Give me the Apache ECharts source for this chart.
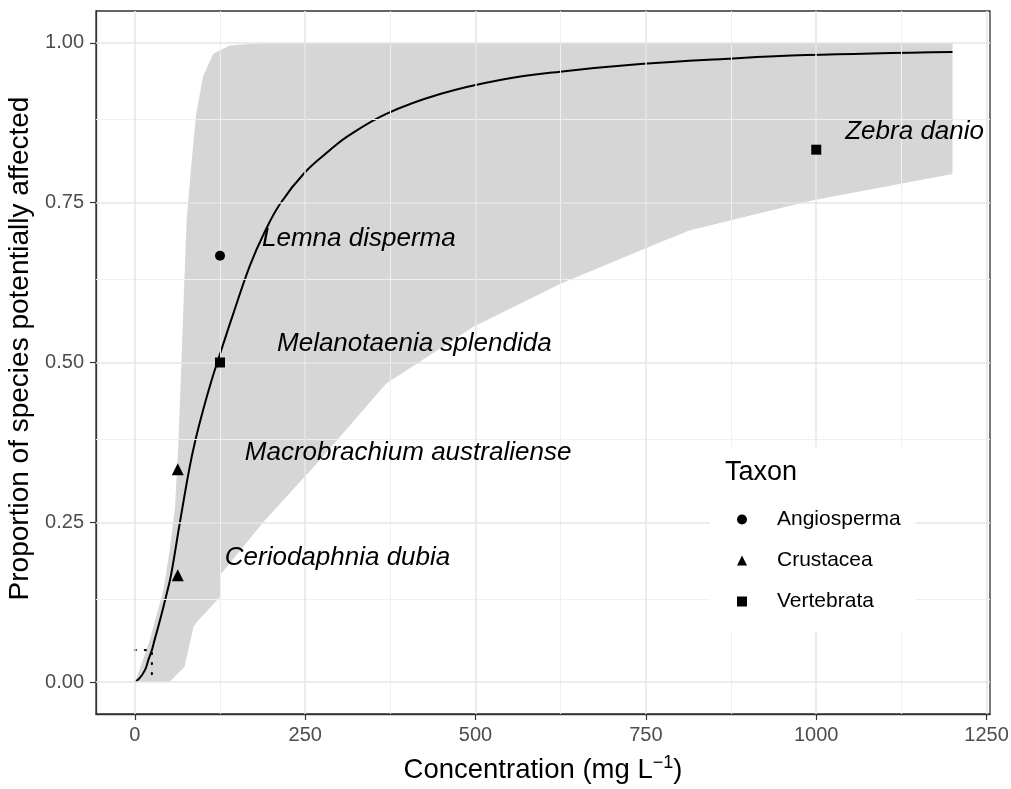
<!DOCTYPE html>
<html><head><meta charset="utf-8">
<script src="https://cdn.jsdelivr.net/npm/echarts@6/dist/echarts.min.js"></script>
<style>html,body{margin:0;padding:0;background:#fff}#c{width:1011px;height:789px}</style>
</head><body><div id="c"></div>
<script>
// ---- data ----
const curveX = [0, 7, 15, 20, 25, 29, 37, 46, 53, 66, 80, 89, 100, 112, 124, 144, 169, 190, 213, 250, 286, 311, 369, 448, 536, 624, 742, 864, 985, 1200];
const curveY = [0, 0.006, 0.019, 0.035, 0.05, 0.066, 0.097, 0.135, 0.167, 0.249, 0.334, 0.379, 0.425, 0.47, 0.51, 0.575, 0.652, 0.703, 0.748, 0.798, 0.832, 0.853, 0.889, 0.92, 0.942, 0.955, 0.967, 0.975, 0.981, 0.986];

const bandUpperX = [0, 2, 22, 42, 51, 59, 64, 68, 72, 76, 83, 90, 100, 115, 139, 188, 1200];
const bandUpperY = [0, 0.004, 0.066, 0.144, 0.206, 0.274, 0.378, 0.49, 0.61, 0.723, 0.811, 0.889, 0.947, 0.983, 0.996, 1.0, 1.0];
const bandLowerX = [0, 51, 73, 86, 91, 125, 125, 190, 267, 369, 497, 624, 771, 815, 995, 1200];
const bandLowerY = [0, 0, 0.024, 0.086, 0.094, 0.133, 0.167, 0.252, 0.342, 0.467, 0.556, 0.623, 0.688, 0.707, 0.754, 0.795];

const species = ['Lemna disperma', 'Melanotaenia splendida', 'Macrobrachium australiense', 'Ceriodaphnia dubia', 'Zebra danio'];
const speciesConc = [125, 125, 63, 63, 1000];
const speciesProp = [0.667, 0.5, 0.333, 0.167, 0.833];
const speciesTaxon = ['Angiosperma', 'Vertebrata', 'Crustacea', 'Crustacea', 'Vertebrata'];
const taxa = ['Angiosperma', 'Crustacea', 'Vertebrata'];

const hc5X = [0, 25, 25];
const hc5Y = [0.05, 0.05, 0];

const xTicks = [0, 250, 500, 750, 1000, 1250];
const xMinor = [125, 375, 625, 875, 1125];
const yTicks = [0, 0.25, 0.5, 0.75, 1];
const yMinor = [0.125, 0.375, 0.625, 0.875];

// ---- styles ----
const FONT = "'Liberation Sans', Arial, sans-serif";
const taxonSymbol = {Angiosperma: 'circle', Crustacea: 'triangle', Vertebrata: 'rect'};
const taxonSize = {Angiosperma: 10, Crustacea: 12, Vertebrata: 10};
const labelNudge = [[37, -17.5], [52, -18.5], [61, -16.6], [41, -18], [24, -18]];

const zip = (a, b) => a.map((v, i) => [v, b[i]]);
const curve = zip(curveX, curveY);
const bandPoly = zip(bandUpperX, bandUpperY).concat(zip(bandLowerX, bandLowerY).reverse());

const majorLine = {color: '#E6E6E6', width: 1.5, type: 'solid'};
const minorLine = {color: '#F0F0F0', width: 1, type: 'solid'};
const gridMarks = [].concat(
  xMinor.map(v => ({xAxis: v, lineStyle: minorLine})),
  yMinor.map(v => ({yAxis: v, lineStyle: minorLine})),
  xTicks.map(v => ({xAxis: v, lineStyle: majorLine})),
  yTicks.map(v => ({yAxis: v, lineStyle: majorLine}))
);

const chart = echarts.init(document.getElementById('c'), null, {renderer: 'canvas'});

const scatterSeries = taxa.map(t => ({
  type: 'scatter', name: t, symbol: taxonSymbol[t], symbolSize: taxonSize[t], z: 5,
  itemStyle: {color: '#000', opacity: 1},
  data: species.map((s, i) => i).filter(i => speciesTaxon[i] === t).map(i => ({
    value: [speciesConc[i], speciesProp[i]], name: species[i],
    label: {
      show: true, position: 'right', distance: 0, offset: labelNudge[i],
      formatter: species[i], fontSize: 26, fontStyle: 'italic', color: '#000',
      fontFamily: FONT, align: 'left', verticalAlign: 'middle'
    }
  }))
}));

chart.setOption({
  animation: false,
  textStyle: {fontFamily: FONT},
  grid: {left: 96, right: 21, top: 11, bottom: 75, outerBoundsMode: 'none', containLabel: false,
    show: true, borderColor: '#333', borderWidth: 1.3, backgroundColor: '#fff'},
  title: {text: 'Taxon', left: 725, top: 459, padding: 0, z: 10,
    textStyle: {fontSize: 27, fontWeight: 'normal', color: '#000', fontFamily: FONT}},
  legend: {
    orient: 'vertical', left: 710, top: 447, padding: [62, 15, 19, 27],
    itemWidth: 10, itemHeight: 10, itemGap: 20, backgroundColor: '#fff',
    selectedMode: false, z: 8, data: taxa,
    textStyle: {fontSize: 21, color: '#000', lineHeight: 21, fontFamily: FONT, padding: [0, 0, 0, 25]}
  },
  xAxis: {
    type: 'value', min: -57, max: 1255,
    splitLine: {show: false},
    axisLine: {show: true, onZero: false, lineStyle: {color: '#333', width: 1.3}},
    axisTick: {show: true, length: 6, customValues: xTicks, lineStyle: {color: '#333', width: 1.2}},
    axisLabel: {customValues: xTicks, fontSize: 20, color: '#4D4D4D', margin: 11, fontFamily: FONT,
      formatter: v => String(v)},
    name: '{n|Concentration (mg L}{s|−1}{n|)}',
    nameLocation: 'middle', nameGap: 40,
    nameTextStyle: {rich: {
      n: {fontSize: 27.5, color: '#000', lineHeight: 32, fontFamily: FONT},
      s: {fontSize: 18, color: '#000', lineHeight: 18, verticalAlign: 'top', fontFamily: FONT}
    }}
  },
  yAxis: {
    type: 'value', min: -0.05, max: 1.05,
    splitLine: {show: false},
    axisLine: {show: true, onZero: false, lineStyle: {color: '#333', width: 1.3}},
    axisTick: {show: true, length: 6, customValues: yTicks, lineStyle: {color: '#333', width: 1.2}},
    axisLabel: {customValues: yTicks, fontSize: 20, color: '#4D4D4D', margin: 12, fontFamily: FONT,
      formatter: v => v.toFixed(2)},
    name: 'Proportion of species potentially affected',
    nameLocation: 'middle', nameGap: 58,
    nameTextStyle: {fontSize: 28, color: '#000', fontFamily: FONT, padding: [0, 0, 0, 28]}
  },
  series: [
    {
      type: 'line', name: 'grid', data: [[0, 0]], showSymbol: false, silent: true, z: 1,
      lineStyle: {width: 0, opacity: 0},
      markLine: {silent: true, symbol: 'none', label: {show: false}, animation: false, data: gridMarks}
    },
    {
      type: 'custom', name: 'band', coordinateSystem: 'cartesian2d', silent: true, z: 2,
      data: bandPoly,
      renderItem: (params, api) => {
        if (params.dataIndex !== 0) return null;
        return {type: 'polygon', shape: {points: bandPoly.map(p => api.coord(p))},
          style: {fill: 'rgba(0,0,0,0.16)'}};
      }
    },
    {
      type: 'line', name: 'hc5', data: zip(hc5X, hc5Y), showSymbol: false, silent: true, z: 3,
      lineStyle: {color: '#000', width: 2.2, type: [1, 9], cap: 'round'}
    },
    {
      type: 'line', name: 'fit', data: curve, showSymbol: false, silent: true, z: 4,
      smooth: 0.4,
      lineStyle: {color: '#000', width: 2}
    }
  ].concat(scatterSeries)
});
</script>
</body></html>
